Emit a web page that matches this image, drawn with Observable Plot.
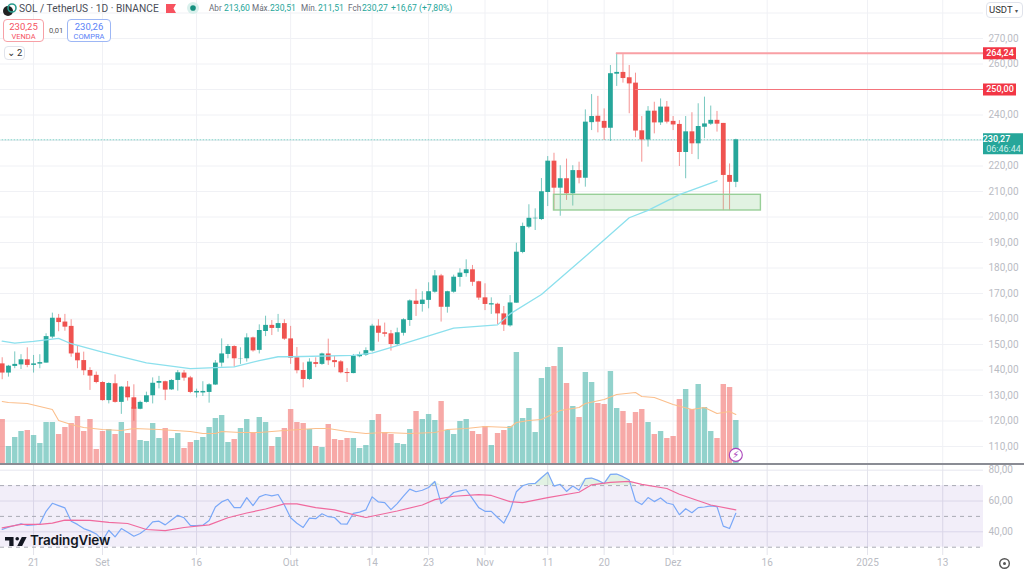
<!DOCTYPE html>
<html>
<head>
<meta charset="utf-8">
<script src="https://cdn.jsdelivr.net/npm/d3@7"></script>
<script src="https://cdn.jsdelivr.net/npm/@observablehq/plot@0.6"></script>
<style>
html,body{margin:0;padding:0;background:#fff;width:1024px;height:571px;overflow:hidden;font-family:Roboto,"Liberation Sans",sans-serif}
#chart{position:relative;width:1024px;height:571px;overflow:hidden}
.layer{position:absolute;left:0}
.h{position:absolute;white-space:nowrap;line-height:1}
.box{position:absolute;box-sizing:border-box;border-radius:4px;background:#fff;text-align:center}
</style>
</head>
<body>
<div id="chart"></div>
<script>
const opens=[142.4,138.8,141.4,142,144,141.8,142.3,142.7,152.9,160.3,158.8,157.1,146.6,143.7,139.8,137.9,135.1,128,134.6,127.3,133.3,129.1,124.6,127.3,129.9,134.8,135.4,132.2,135.9,138.8,136.9,131,131,131.2,134.1,142.7,146.1,149.2,144.4,144.4,152.6,147.7,
155.1,157.5,156.3,158.2,152.2,144.8,139.8,136.3,142.9,142.2,146.3,143.7,143.2,139,138.6,145.2,145.8,147.4,157.2,154.6,154.2,150,154.4,159.4,167,165.7,167.3,170.5,176.9,164.6,170.5,176.3,177.8,179.3,174.6,168.3,165.5,165.8,162,157.3,
166.2,186.1,196,199.3,199,209.6,221.9,211.3,215,209.1,218.2,215.2,237,239.5,237.5,234.8,256,256.7,254.6,252.5,233.8,230.2,241.5,236.9,243.1,237.5,236.3,225.3,233.4,228.7,235.2,236.4,237.9,236.7,216.3,213.6];
const closes=[138.8,141.5,142.2,144,141.8,142.4,142.9,153.1,160.3,158.6,156.8,146.3,143.6,139.7,137.6,135.1,128,134.7,127.3,133.3,129.1,124.6,127.3,129.9,134.8,135.5,132.1,135.9,138.9,136.8,131.2,131.6,131.6,134.2,142.7,146.3,149.2,144.4,144.5,152.6,147.5,155.5,
157.5,156.3,158.2,152.1,144.6,139.7,136.3,143.1,142.2,146.3,143.6,142.9,138.9,138.6,145.4,146,147.6,157.2,154.4,154,150,154.6,159.7,167.1,165.7,167.4,170.7,176.9,164.6,170.7,176.4,178,179.3,174.4,168.2,165.7,166,162,157.6,166.3,
186.2,196.3,199.5,199.5,209.9,221.9,211.3,215,209.1,218.2,215.2,237.2,239.4,237.2,234.8,256.2,256.7,254.3,252.2,233.7,230.2,241.5,236.9,243.1,237.2,236.1,225.3,233.4,228.7,235.5,236.5,237.9,236.4,216.3,213.6,230.27];
const highs=[144.8,141.8,147.1,146,148.7,145.7,146,154.2,162.3,161.8,161.8,159.7,149.2,147,140.9,139.2,135.4,135,138.1,133.5,135.5,134.2,127.8,131.3,136.9,137.5,135.6,136.2,139.8,139.8,137.5,132.5,135.4,134.6,143.7,152.2,150,149.5,148.7,154.2,152.9,157.7,
161.1,159.4,161.8,159.7,157.1,148.8,142.8,144.4,144.8,146.6,152.1,145.3,143.7,140.6,146.1,147,148.7,157.9,159.7,158.4,155.5,156.4,160.1,167.5,171.6,170.7,174.2,179,177.5,170.9,177.2,179.7,183.2,181,174.8,173.8,168.3,166.2,164.9,169.2,
189.7,197.6,204.8,203.2,215.1,223.7,225,220.1,222.7,220.1,221.5,242,248,247.3,242.4,259.4,264.2,263.7,259.4,256.4,239.4,243.3,245,246.3,245.3,239.4,237.8,239.4,240.9,244.4,247,243.5,241.4,236.7,220.8,230.51];
const lows=[136.2,137.2,140.5,140.2,140.9,138.8,140.5,142.7,152.2,155,155.2,145,140.5,137.8,132,134.6,127.8,126.7,127,122.6,127.8,119.9,124.4,127,126.7,132.6,128,132,131.7,135.6,130.7,129,129.6,127,133.9,141.1,144.4,141.1,142.2,143.1,147,146.3,
153.1,153.5,154.8,151.6,142.2,138.5,133,135.9,140.9,141.8,141.8,140.9,138.5,135.1,138.5,144.8,145.3,147,150.9,152.9,147.4,149.3,153.3,157.1,161,162.7,164,170.1,158.8,162.3,170.1,172.5,176.4,172.8,167.3,163.3,161.8,157.8,155.1,156.8,
166.2,185.6,195.4,194.7,198.6,204.1,202.5,200.3,206.5,204.3,213,211.7,233.9,233,230,229.6,251.2,252.5,240.5,231.1,221.5,227.4,232.6,235.9,236.5,233.9,219.8,215,224.5,222.5,230.7,235.9,233.3,202.5,202.5,211.51];
const volumes=[44,17,26,32,33,28,20,41,41,29,36,40,47,32,44,14,32,34,29,41,30,56,23,22,40,25,35,25,30,15,21,23,26,36,45,48,21,24,35,44,30,46,
41,17,26,35,54,41,40,34,17,16,39,24,23,25,25,15,18,43,49,31,29,20,19,34,52,44,49,43,62,33,29,42,44,32,29,37,18,30,33,37,
111,45,55,31,85,96,97,116,80,57,46,91,81,60,59,92,55,52,40,51,54,41,29,32,25,27,64,74,54,79,56,32,25,79,76,43];
const rsi=[41.5,43,44.1,45.2,44.1,44.5,45,53.3,58.5,57,55.5,46.9,44.8,42.1,40.6,38.6,34.3,41,36.7,42.1,39.7,37.1,38.9,41.9,46.5,46.9,44.5,47.6,50.7,49.1,44.1,44.1,44.3,47.4,56.1,59.4,61.1,55.7,55.7,62.2,57,62.7,64.2,63.3,64.2,57.4,49.1,45.6,42.8,48.9,48.5,51.7,49.8,49.3,45.2,45,52,52.8,54.2,62.7,59.4,59,54.4,58.3,
63.1,67.7,66,67,68.8,72.7,58.3,61.6,65.5,66.6,67.3,61.6,55.7,53.3,53.3,49.3,45.6,53.7,66,69.9,71.2,71.4,75.1,78.6,69.7,70.8,66.2,69.7,67,74.5,74.9,73.4,71.4,77.3,77.5,75.8,73.6,60,57.7,62.2,59.6,62,58.7,57.7,51.1,55,52.4,55.7,56.1,56.8,56.3,43.7,42.1,52];
const priceMaDays=[0,2,5,9,11,16,23,30,37,41,44,46,56,59,63,72,79,81,86,93,100,103,108,114];
const priceMaValues=[151.3,150.5,151.2,152.4,150.3,147,142.8,140.5,141.2,143.7,145.2,145.2,145.7,146.6,149.6,156.4,157.7,162,169.6,184.5,199.7,202.6,208.8,214.2];
const volMaDays=[0,1,4,6,8,9,11,13,16,19,21,25,30,32,34,35,38,41,45,50,52,55,58,61,65,69,71,74,77,81,82,84,86,89,92,93,96,98,101,102,104,107,110,112,114,116,117];
const volMaValues=[62,61,60,57,54,43,39,36,34,33,35,34,32,30,30,32,31,31,33,35,35,32,30,31,30,31,34,35,37,36,41,43,44,53,56,60,64,69,71,67,66,59,54,56,50,52,49];
const rsiMaDays=[0,3,6,8,10,14,17,20,23,26,29,33,36,39,42,45,47,50,53,56,58,63,67,69,72,76,78,81,83,87,92,94,97,100,102,106,108,113,117];
const rsiMaValues=[42.6,44.8,44.8,45.6,47.6,47.4,46.1,45.4,41.5,40.8,42.8,44.5,49.1,52.2,54.8,58.1,58.1,55.7,54.2,51.1,49.3,53.5,57.4,60.9,63.1,64.2,63.6,59.6,59,62.2,65.7,70.5,72.1,72.7,70.8,68.1,64.4,57.4,54.2];
const priceLabelTicks=[110,120,130,140,150,160,170,180,190,200,210,220,240,260,270];
const priceGrid=[110,120,130,140,150,160,170,180,190,200,210,220,230,240,250,260,270,280];
const rsiTicks=[40,60,80];
const rsiLevels=[30,50,70];
const dateTicks=["2024-08-21","2024-09-01","2024-09-16","2024-10-01","2024-10-14","2024-10-23","2024-11-01","2024-11-11","2024-11-20","2024-12-01","2024-12-16","2025-01-01","2025-01-13"].map(d=>new Date(d+"T00:00Z"));
const dateLabels=["21","Set","16","Out","14","23","Nov","11","20","Dez","16","2025","13"];
const levelHigh=264.24, levelRes=250, lastPrice=230.27, zoneTop=208.7, zoneBottom=202.55;

const firstDay=new Date("2024-08-16T00:00Z");
const day=i=>d3.utcDay.offset(firstDay,i);
const xScale={type:"utc",domain:[new Date("2024-08-15T17:30Z"),new Date("2025-01-19T12:00Z")]};
const paneEnd=xScale.domain[1];
const after=px=>new Date(+paneEnd+px/6.27*864e5);
const candles=opens.map((o,i)=>({date:day(i),open:o,close:closes[i],high:highs[i],low:lows[i],volume:volumes[i],rsi:rsi[i],color:closes[i]>=o?"#26a69a":"#ef5350"}));
const priceMa=priceMaDays.map((d,i)=>({date:day(d),v:priceMaValues[i]}));
const volMa=volMaDays.map((d,i)=>({date:day(d),v:volMaValues[i]}));
const rsiMa=rsiMaDays.map((d,i)=>({date:day(d),v:rsiMaValues[i]}));
const level=(startDay,v)=>[{date:day(startDay),v},{date:paneEnd,v}];
const comma=f=>d=>d3.format(f)(d).replace(".",",");
const font='Roboto,"Liberation Sans",sans-serif';
const base={width:1024,marginLeft:0,marginRight:41,marginTop:0,marginBottom:0,x:xScale,
  style:{background:"transparent",fontFamily:font,fontSize:"10px"}};
const priceY={domain:[110,270],range:[446,38]};
const grid="#f0f1f5", axisColor="#babcc4";
const mount=(svg,top)=>{const d=document.createElement("div");d.className="layer";d.style.top=top+"px";d.appendChild(svg);document.getElementById("chart").appendChild(d);};

// grid layer
mount(Plot.plot({...base,height:463,y:priceY,axis:null,marks:[
  Plot.gridY(priceGrid,{stroke:grid,strokeOpacity:1}),
  Plot.gridX(dateTicks,{stroke:grid,strokeOpacity:1})
]}),0);

// volume layer
mount(Plot.plot({...base,height:463,y:{domain:[0,120],range:[463,343]},axis:null,marks:[
  Plot.ruleX(candles,{x:"date",y1:0,y2:"volume",stroke:"color",strokeOpacity:.5,strokeWidth:5.4}),
  Plot.line(volMa,{x:"date",y:"v",stroke:"#fbbf8c",strokeWidth:1.1,curve:"linear"})
]}),0);

// price layer
mount(Plot.plot({...base,height:463,y:priceY,marks:[
  Plot.axisX({ticks:[],tickSize:0,label:null}),
  Plot.axisY(priceLabelTicks,{anchor:"right",tickSize:0,tickPadding:5,tickFormat:comma(".2f"),color:axisColor,label:null}),
  Plot.line(level(-1,lastPrice),{x:"date",y:"v",stroke:"#7fcfc7",strokeWidth:1,strokeDasharray:"1,2"}),
  Plot.ruleX(candles,{x:"date",y1:"low",y2:"high",stroke:"color",strokeOpacity:.62,strokeWidth:1}),
  Plot.ruleX(candles,{x:"date",y1:"open",y2:"close",stroke:"color",strokeWidth:4.8}),
  Plot.rect([{a:day(88),b:day(121),t:zoneTop,u:zoneBottom}],{x1:"a",x2:"b",y1:"u",y2:"t",fill:"#81c784",fillOpacity:.24,stroke:"#98cf98",strokeWidth:1.4}),
  Plot.line(priceMa,{x:"date",y:"v",stroke:"#8ce0ed",strokeWidth:1.3}),
  Plot.line(level(98,levelHigh),{x:"date",y:"v",stroke:"#f9a0a5",strokeWidth:2}),
  Plot.line(level(101,levelRes),{x:"date",y:"v",stroke:"#f4747c",strokeWidth:1.2}),
  Plot.ruleY([levelHigh,levelRes],{x1:paneEnd,x2:after(33),stroke:"#f23645",strokeWidth:12}),
  Plot.text([levelHigh,levelRes],{y:d=>d,x:after(16.5),text:comma(".2f"),fill:"#fff",fontWeight:500,fontSize:9}),
  Plot.ruleY([lastPrice],{x1:paneEnd,x2:after(40),stroke:"#26a69a",strokeWidth:21,dy:4}),
  Plot.text([lastPrice],{y:d=>d,x:after(13),text:comma(".2f"),fill:"#fff",fontWeight:500,fontSize:9,dy:-1}),
  Plot.text(["06:46:44"],{y:lastPrice,x:after(20),text:d=>d,fill:"#cdeeea",fontSize:9,dy:9}),
  Plot.dot([{date:day(117),y:106.7}],{x:"date",y:"y",r:6.5,fill:"#fff",stroke:"#ab47bc",strokeWidth:1.1}),
  Plot.text([{date:day(117),y:106.7}],{x:"date",y:"y",text:()=>"⚡",fill:"#ab47bc",fontSize:10,fontFamily:"DejaVu Sans"})
]}),0);

// RSI layer
const rsiOver=candles.map(d=>({date:d.date,v:Math.max(70,d.rsi)}));
mount(Plot.plot({...base,height:107,marginBottom:16,y:{domain:[30,80],range:[82.7,5.7]},marks:[
  Plot.gridY(rsiTicks,{stroke:"#e6e6ef",strokeOpacity:1}),
  Plot.gridX(dateTicks,{stroke:"#e4e4ec",strokeOpacity:1}),
  Plot.rect([{a:xScale.domain[0],b:paneEnd}],{x1:"a",x2:"b",y1:30,y2:70,fill:"#7e57c2",fillOpacity:.1}),
  Plot.ruleY(rsiLevels,{stroke:"#a9aab4",strokeDasharray:"4,4",strokeWidth:1}),
  Plot.areaY(rsiOver,{x:"date",y1:70,y2:"v",fill:"#4caf50",fillOpacity:.16}),
  Plot.line(candles,{x:"date",y:"rsi",stroke:"#7aa8f8",strokeWidth:1.2}),
  Plot.line(rsiMa,{x:"date",y:"v",stroke:"#f06a9e",strokeWidth:1.2}),
  Plot.axisY(rsiTicks,{anchor:"right",tickSize:0,tickPadding:5,tickFormat:comma(".2f"),color:axisColor,label:null}),
  Plot.axisX(dateTicks,{anchor:"bottom",tickSize:0,tickPadding:3,tickFormat:(d,i)=>dateLabels[i],color:axisColor,label:null})
]}),464);

// chrome
const chart=document.getElementById("chart");
const add=(html)=>chart.insertAdjacentHTML("beforeend",html);
add(`<div style="position:absolute;left:0;top:463px;width:1024px;height:1.5px;background:#8a8c94"></div>`);
add(`<div class="h" style="left:19px;top:4px;font-size:10.2px;color:#4a4d57">SOL / TetherUS · 1D · BINANCE</div>`);
add(`<svg style="position:absolute;left:2px;top:2px" width="16" height="16"><circle cx="6" cy="9" r="5" fill="#222"/><circle cx="10" cy="6" r="4" fill="none" stroke="#2a9d8f" stroke-width="1.6"/></svg>`);
add(`<svg style="position:absolute;left:165px;top:3px" width="12" height="11"><path d="M1 1h10l-2.5 4.5L11 10H1z" fill="#f7525f"/></svg>`);
add(`<svg style="position:absolute;left:186px;top:1px" width="14" height="14"><circle cx="7" cy="7" r="6" fill="#d9f0ec"/><circle cx="7" cy="7" r="2.8" fill="#14907f"/></svg>`);
[["Abr",209,"213,60",224],["Máx.",252,"230,51",270],["Mín.",301,"211,51",318],["Fch",348,"230,27",362]].forEach(([l,a,v,b])=>{
  add(`<div class="h" style="left:${a}px;top:4px;font-size:8.2px;color:#6a6d78">${l}</div><div class="h" style="left:${b}px;top:4px;font-size:8.6px;color:#26a69a">${v}</div>`);
});
add(`<div class="h" style="left:391px;top:4px;font-size:8.6px;color:#26a69a">+16,67 (+7,80%)</div>`);
add(`<div class="box" style="left:3px;top:19px;width:41px;height:23px;border:1px solid #f7a0a6"><div style="font-size:9.5px;color:#f5525f;margin-top:2px;line-height:10px">230,25</div><div style="font-size:7.5px;color:#f5525f;line-height:9px">VENDA</div></div>`);
add(`<div class="h" style="left:49px;top:27px;font-size:7.5px;color:#555">0,01</div>`);
add(`<div class="box" style="left:67px;top:19px;width:44px;height:23px;border:1px solid #9db7f5"><div style="font-size:9.5px;color:#5b82f7;margin-top:2px;line-height:10px">230,26</div><div style="font-size:7.5px;color:#5b82f7;line-height:9px">COMPRA</div></div>`);
add(`<div class="box" style="left:4px;top:46px;width:21px;height:14px;border:1px solid #e0e3eb;font-size:9.5px;line-height:12px;color:#333">⌄ 2</div>`);
add(`<div class="box" style="left:986px;top:2px;width:37px;height:16px;border:1px solid #e0e3eb;font-size:9.5px;line-height:14px;color:#333;text-align:left;padding-left:2px">USDT <span style="font-size:6px;color:#555">▾</span></div>`);
add(`<svg style="position:absolute;left:5px;top:535px" width="22" height="13" viewBox="0 0 36 21"><path d="M14 3H0v6h7v9h7z" fill="#131722"/><circle cx="20" cy="6" r="3" fill="#131722"/><path d="M28 18h-8l7.5-15h8z" fill="#131722"/></svg>`);
add(`<div class="h" style="left:30px;top:534px;font-size:13.5px;font-weight:600;color:#131722;font-family:Inter,Roboto,sans-serif;letter-spacing:-.2px">TradingView</div>`);
add(`<svg style="position:absolute;left:998px;top:557px" width="13" height="13"><circle cx="6.5" cy="6.5" r="4.8" fill="none" stroke="#555" stroke-width="1.4"/><circle cx="6.5" cy="6.5" r="1.5" fill="#555"/></svg>`);
</script>
</body>
</html>
